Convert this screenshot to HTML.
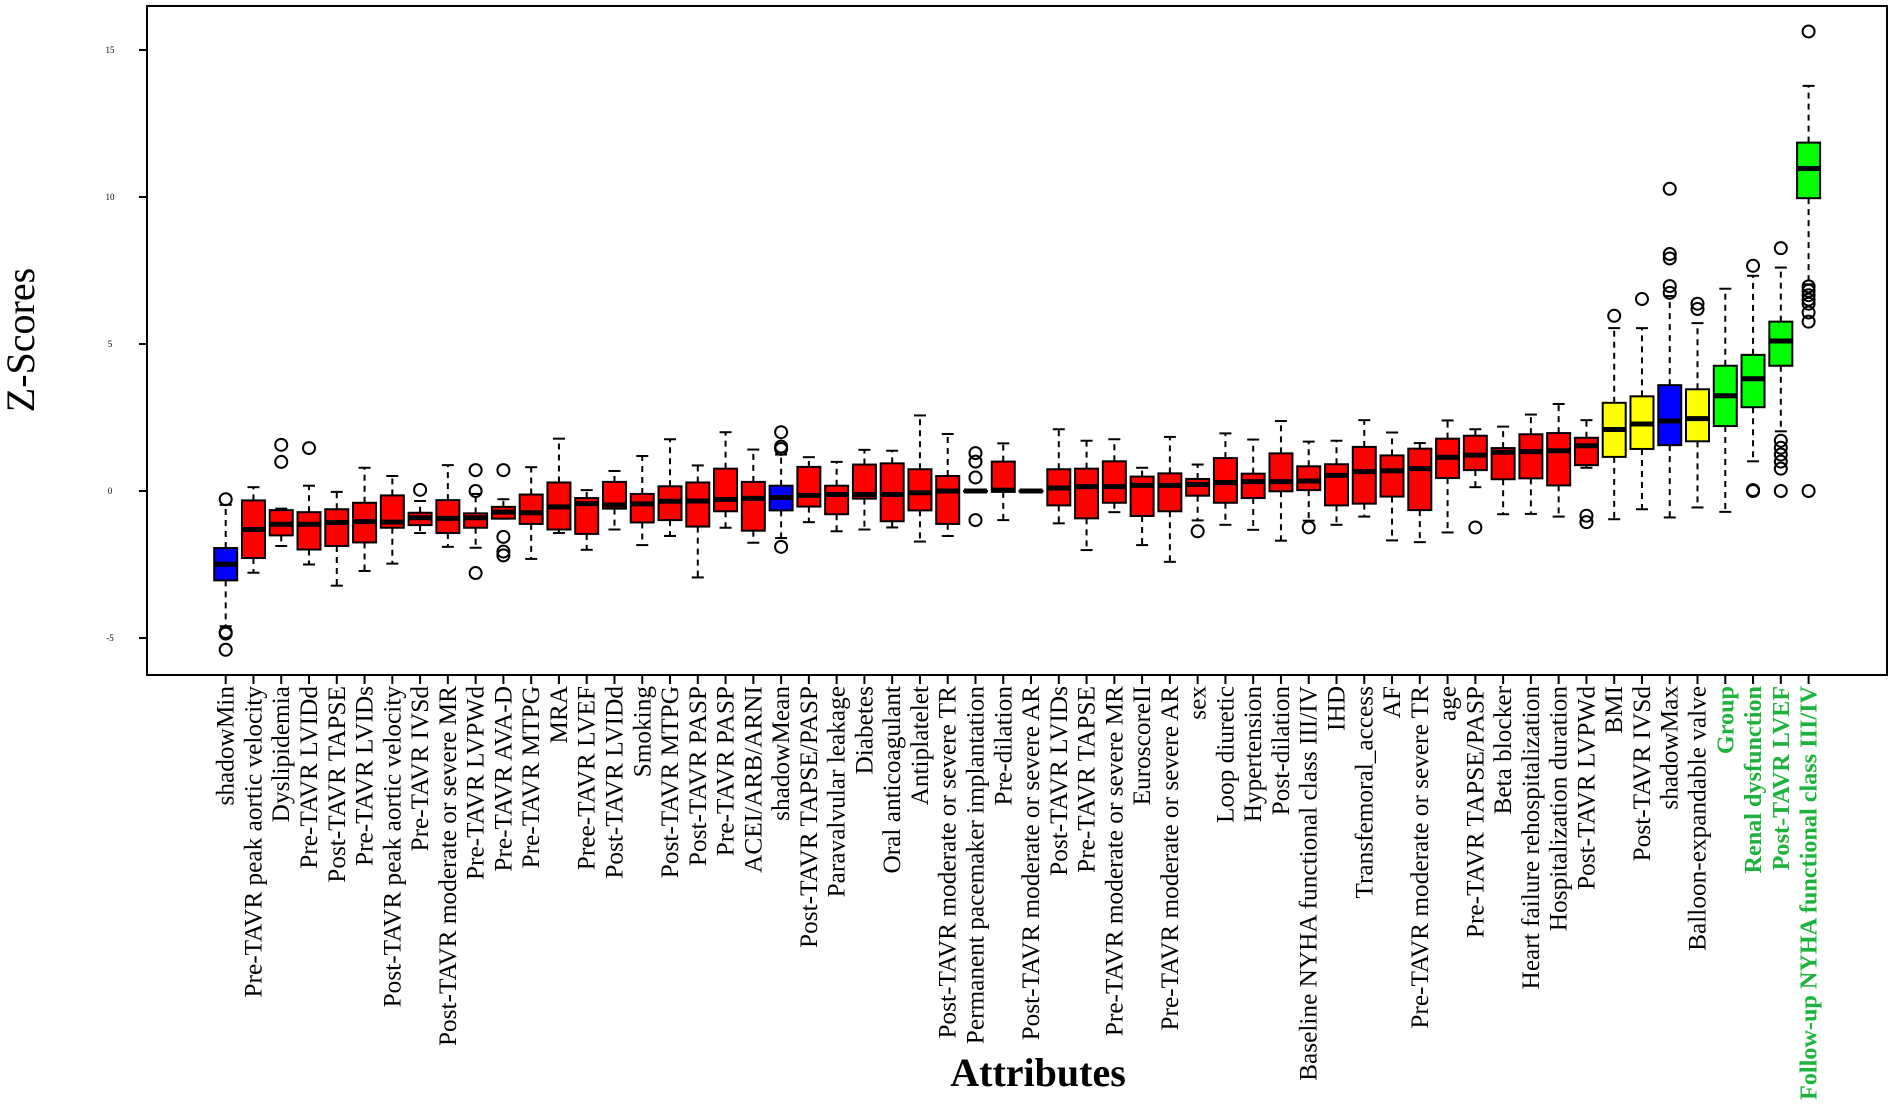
<!DOCTYPE html>
<html><head><meta charset="utf-8"><style>
html,body{margin:0;padding:0;background:#fff;}
svg{display:block;}
text{font-family:"Liberation Serif",serif;}
</style></head><body>
<svg id="chart" width="1893" height="1105" viewBox="0 0 1893 1105" xmlns="http://www.w3.org/2000/svg">
<rect x="147" y="6" width="1740" height="669" fill="none" stroke="#000" stroke-width="2"/>
<g id="yaxis"></g>
<g id="boxes"></g>
<g id="xlabels"></g>
<text transform="translate(34,340) rotate(-90)" text-anchor="middle" font-size="40">Z-Scores</text>
<text x="1038" y="1086" text-anchor="middle" font-size="40" font-weight="bold">Attributes</text>
</svg>
<script>
const categories = ["shadowMin","Pre-TAVR peak aortic velocity","Dyslipidemia","Pre-TAVR LVIDd","Post-TAVR TAPSE","Pre-TAVR LVIDs","Post-TAVR peak aortic velocity","Pre-TAVR IVSd","Post-TAVR moderate or severe MR","Pre-TAVR LVPWd","Pre-TAVR AVA-D","Pre-TAVR MTPG","MRA","Pree-TAVR LVEF","Post-TAVR LVIDd","Smoking","Post-TAVR MTPG","Post-TAVR PASP","Pre-TAVR PASP","ACEI/ARB/ARNI","shadowMean","Post-TAVR TAPSE/PASP","Paravalvular leakage","Diabetes","Oral anticoagulant","Antiplatelet","Post-TAVR moderate or severe TR","Permanent pacemaker implantation","Pre-dilation","Post-TAVR moderate or severe AR","Post-TAVR LVIDs","Pre-TAVR TAPSE","Pre-TAVR moderate or severe MR","EuroscoreII","Pre-TAVR moderate or severe AR","sex","Loop diuretic","Hypertension","Post-dilation","Baseline NYHA functional class III/IV","IHD","Transfemoral_access","AF","Pre-TAVR moderate or severe TR","age","Pre-TAVR TAPSE/PASP","Beta blocker","Heart failure rehospitalization","Hospitalization duration","Post-TAVR LVPWd","BMI","Post-TAVR IVSd","shadowMax","Balloon-expandable valve","Group","Renal dysfunction","Post-TAVR LVEF","Follow-up NYHA functional class III/IV"];
const groups = ["B","R","R","R","R","R","R","R","R","R","R","R","R","R","R","R","R","R","R","R","B","R","R","R","R","R","R","R","R","R","R","R","R","R","R","R","R","R","R","R","R","R","R","R","R","R","R","R","R","R","Y","Y","B","Y","G","G","G","G"];
const q1 = [-3.04,-2.28,-1.51,-1.99,-1.87,-1.75,-1.25,-1.16,-1.43,-1.25,-0.94,-1.12,-1.31,-1.46,-0.6,-1.07,-0.99,-1.21,-0.69,-1.35,-0.66,-0.53,-0.79,-0.26,-1.03,-0.66,-1.12,0,-0.03,0,-0.49,-0.93,-0.4,-0.85,-0.69,-0.16,-0.4,-0.24,-0.01,0.03,-0.49,-0.43,-0.19,-0.65,0.44,0.71,0.4,0.43,0.19,0.88,1.16,1.43,1.56,1.69,2.21,2.85,4.26,9.96];
const medians = [-2.49,-1.31,-1.13,-1.13,-1.07,-1.04,-1.06,-0.91,-0.93,-0.91,-0.72,-0.74,-0.54,-0.43,-0.47,-0.44,-0.35,-0.34,-0.29,-0.25,-0.22,-0.15,-0.12,-0.12,-0.12,-0.06,0,0,0.03,0,0.1,0.15,0.15,0.19,0.19,0.22,0.29,0.32,0.32,0.34,0.53,0.66,0.69,0.76,1.15,1.22,1.32,1.34,1.37,1.54,2.09,2.28,2.38,2.46,3.24,3.82,5.1,10.97];
const q3 = [-1.94,-0.32,-0.65,-0.72,-0.62,-0.4,-0.15,-0.74,-0.31,-0.76,-0.54,-0.12,0.29,-0.24,0.31,-0.1,0.16,0.29,0.76,0.31,0.18,0.82,0.18,0.9,0.94,0.74,0.51,0,1.0,0,0.74,0.76,1.01,0.49,0.6,0.41,1.12,0.59,1.28,0.84,0.91,1.5,1.21,1.44,1.78,1.88,1.46,1.93,1.97,1.81,3.0,3.22,3.6,3.46,4.26,4.63,5.76,11.85];
const whiskerLow = [-4.6,-2.78,-1.87,-2.5,-3.22,-2.72,-2.47,-1.43,-1.9,-1.93,-0.94,-2.31,-1.43,-2.0,-1.31,-1.84,-1.53,-2.94,-1.25,-1.76,-1.6,-1.06,-1.37,-1.31,-1.24,-1.72,-1.53,0,-0.99,0,-1.1,-2.01,-0.72,-1.84,-2.41,-1.0,-1.15,-1.32,-1.69,-1.01,-1.15,-0.87,-1.68,-1.74,-1.41,0.13,-0.79,-0.78,-0.87,0.79,-0.96,-0.62,-0.9,-0.56,-0.71,1.01,2.03,7.03];
const whiskerHigh = [-0.47,0.13,-0.6,0.18,-0.03,0.79,0.51,-0.34,0.88,-0.1,-0.28,0.81,1.78,0.03,0.68,1.19,1.76,0.87,2.0,1.41,1.24,1.15,0.99,1.4,1.37,2.57,1.94,0,1.62,0,2.1,1.71,1.76,0.79,1.84,0.9,1.96,1.75,2.38,1.68,1.71,2.41,1.99,1.63,2.4,2.1,2.19,2.6,2.96,2.41,5.54,5.54,6.63,5.71,6.88,7.32,7.6,13.78];
const outliers = [[-0.28,-4.8,-4.85,-5.4],[],[1.57,0.99],[1.46],[],[],[],[0.04],[],[0.71,0,-2.79],[0.71,-1.56,-2.06,-2.19],[],[],[],[],[],[],[],[],[],[2.0,1.51,1.43,-1.9],[],[],[],[],[],[],[1.29,1.0,0.46,-0.99],[],[],[],[],[],[],[],[-1.37],[],[],[],[-1.24],[],[],[],[],[],[-1.24],[],[],[],[-0.84,-1.06],[5.96],[6.53],[10.28,8.06,7.91,6.97,6.74],[6.37,6.19],[],[7.66,0,0.03],[8.26,1.71,1.47,1.24,1.0,0.76,0],[15.63,6.96,6.81,6.66,6.51,6.37,6.07,5.76,0]];
const yTicks = [-5,0,5,10,15];

const NS="http://www.w3.org/2000/svg";
const colorMap={R:"#ff0000",B:"#0000ff",Y:"#ffff00",G:"#00ff00"};
function yScale(v){return 491 - v*29.4;}
function xScale(i){return 225.7 + i*27.77;}
function mk(tag,attrs,parent){const e=document.createElementNS(NS,tag);for(const k in attrs)e.setAttribute(k,attrs[k]);parent.appendChild(e);return e;}
const yax=document.getElementById('yaxis');
yTicks.forEach(t=>{
  const y=yScale(t);
  const l=mk('line',{x1:139,x2:147,y1:y,y2:y,stroke:'#000','stroke-width':2},yax);
  
  
  const tx=mk('text',{x:110,y:y+3,'text-anchor':'middle','font-size':9},yax);
  
  
  tx.textContent=String(t);
});
const bx=document.getElementById('boxes');
const xl=document.getElementById('xlabels');
const hw=11.5, cw=6;
categories.forEach((c,i)=>{
  const x=xScale(i);
  const g=mk('g',{},bx);
  
  
  const dash={stroke:'#000','stroke-width':2,'stroke-dasharray':'6,5'};
  mk('line',Object.assign({x1:x,x2:x,y1:yScale(q3[i]),y2:yScale(whiskerHigh[i])},dash),g);
  mk('line',Object.assign({x1:x,x2:x,y1:yScale(q1[i]),y2:yScale(whiskerLow[i])},dash),g);
  mk('line',{x1:x-cw,x2:x+cw,y1:yScale(whiskerHigh[i]),y2:yScale(whiskerHigh[i]),stroke:'#000','stroke-width':2},g);
  mk('line',{x1:x-cw,x2:x+cw,y1:yScale(whiskerLow[i]),y2:yScale(whiskerLow[i]),stroke:'#000','stroke-width':2},g);
  const top=yScale(q3[i]), bot=yScale(q1[i]);
  mk('rect',{x:x-hw,y:top,width:hw*2,height:Math.max(bot-top,0.5),fill:colorMap[groups[i]],stroke:'#000','stroke-width':2},g);
  mk('line',{x1:x-hw,x2:x+hw,y1:yScale(medians[i]),y2:yScale(medians[i]),stroke:'#000','stroke-width':5},g);
  outliers[i].forEach(o=>{
    const ci=mk('circle',{cx:x,cy:yScale(o),r:6,fill:'none',stroke:'#000','stroke-width':2},g);
    
    
  });
  const tk=mk('line',{x1:x,x2:x,y1:675,y2:684,stroke:'#000','stroke-width':2},xl);
  
  
  const green=i>=54;
  const t=mk('text',{transform:`translate(${x+8},686) rotate(-90)`,'text-anchor':'end','font-size':green?24.2:25.3,fill:green?'#1db33a':'#000','font-weight':green?'bold':'normal'},xl);
  
  
  t.textContent=c;
});
</script>
</body></html>
